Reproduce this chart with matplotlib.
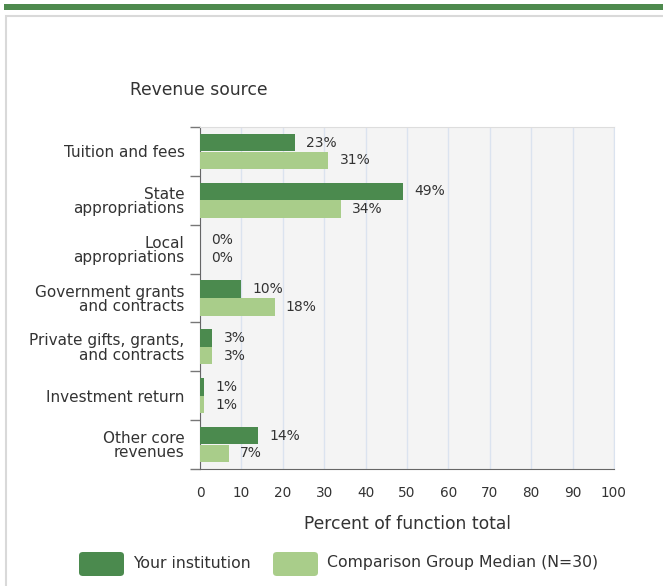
import matplotlib
matplotlib.use("Agg")
import matplotlib.pyplot as plt
from matplotlib.patches import Rectangle, FancyBboxPatch
import numpy as np

categories = ["Tuition and fees", "State\nappropriations", "Local\nappropriations",
              "Government grants\nand contracts", "Private gifts, grants,\nand contracts",
              "Investment return", "Other core\nrevenues"]
your_institution = [23, 49, 0, 10, 3, 1, 14]
comparison_median = [31, 34, 0, 18, 3, 1, 7]
series_names = ["Your institution", "Comparison Group Median (N=30)"]
x_ticks = [0, 10, 20, 30, 40, 50, 60, 70, 80, 90, 100]

DARK = "#4b8a4e"
LIGHT = "#a9cd8a"
TXT = "#333333"

plt.rcParams['font.family'] = ['DejaVu Sans']

W, H = 663, 586
fig = plt.figure(figsize=(W/100, H/100), dpi=100)

# top green band and frame
fig.patches.append(Rectangle((4/W, 1-10/H), (W-4)/W, 6/H, transform=fig.transFigure,
                             facecolor="#4e8a4e", edgecolor="none", zorder=-10))
fig.patches.append(Rectangle((6/W, -0.01), (W+20)/W, 1-16/H+0.01, transform=fig.transFigure,
                             facecolor="white", edgecolor="#d9d9d9", linewidth=1.5, zorder=-10))

ax = fig.add_axes([200/W, 1-469/H, 414/W, 342/H])
ax.set_facecolor("#f4f4f4")
y = np.arange(len(categories))
h = 0.357
ax.barh(y - 0.18, your_institution, height=h, color=DARK, zorder=3)
ax.barh(y + 0.18, comparison_median, height=h, color=LIGHT, zorder=3)
for i in range(len(categories)):
    ax.annotate(f"{your_institution[i]}%", (your_institution[i], y[i]-0.18),
                xytext=(8, 0), textcoords="offset points", va="center", ha="left",
                fontsize=10, color=TXT)
    ax.annotate(f"{comparison_median[i]}%", (comparison_median[i], y[i]+0.18),
                xytext=(8, 0), textcoords="offset points", va="center", ha="left",
                fontsize=10, color=TXT)

ax.set_xlim(0, 100)
ax.set_ylim(len(categories)-0.5, -0.5)
ax.set_xticks(x_ticks)
ax.set_xticklabels([str(t) for t in x_ticks], fontsize=9.8, color=TXT)
ax.tick_params(axis='x', length=0, pad=12)
ax.set_yticks(y)
ax.set_yticklabels(categories, fontsize=11, color=TXT, linespacing=0.95)
ax.tick_params(axis='y', which='major', length=0, pad=11)
ax.set_yticks(np.arange(len(categories)+1) - 0.5, minor=True)
ax.tick_params(axis='y', which='minor', length=7, color="#777777", width=1)
ax.grid(axis='x', color="#dbe3ef", linewidth=1, zorder=0)
ax.set_axisbelow(True)
ax.spines['top'].set_color("#dddddd")
ax.spines['right'].set_color("#dbe3ef")
ax.spines['bottom'].set_color("#666666")
ax.spines['left'].set_color("#666666")
ax.set_xlabel("Percent of function total", fontsize=12.3, color=TXT, labelpad=11)

fig.text(130/W, 1-90/H, "Revenue source", fontsize=12.3, color=TXT, va="center", ha="left")

# legend
for (x0, col, name, tx) in [(79, DARK, series_names[0], 133), (273, LIGHT, series_names[1], 327)]:
    fig.patches.append(FancyBboxPatch((x0/W, 1-576/H), 45/W, 24/H,
                       boxstyle="round,pad=0,rounding_size=0.006",
                       transform=fig.transFigure, facecolor=col, edgecolor="none"))
    fig.text(tx/W, 1-563/H, name, fontsize=11.3, color=TXT, va="center", ha="left")

fig.savefig("out.png", dpi=100)
